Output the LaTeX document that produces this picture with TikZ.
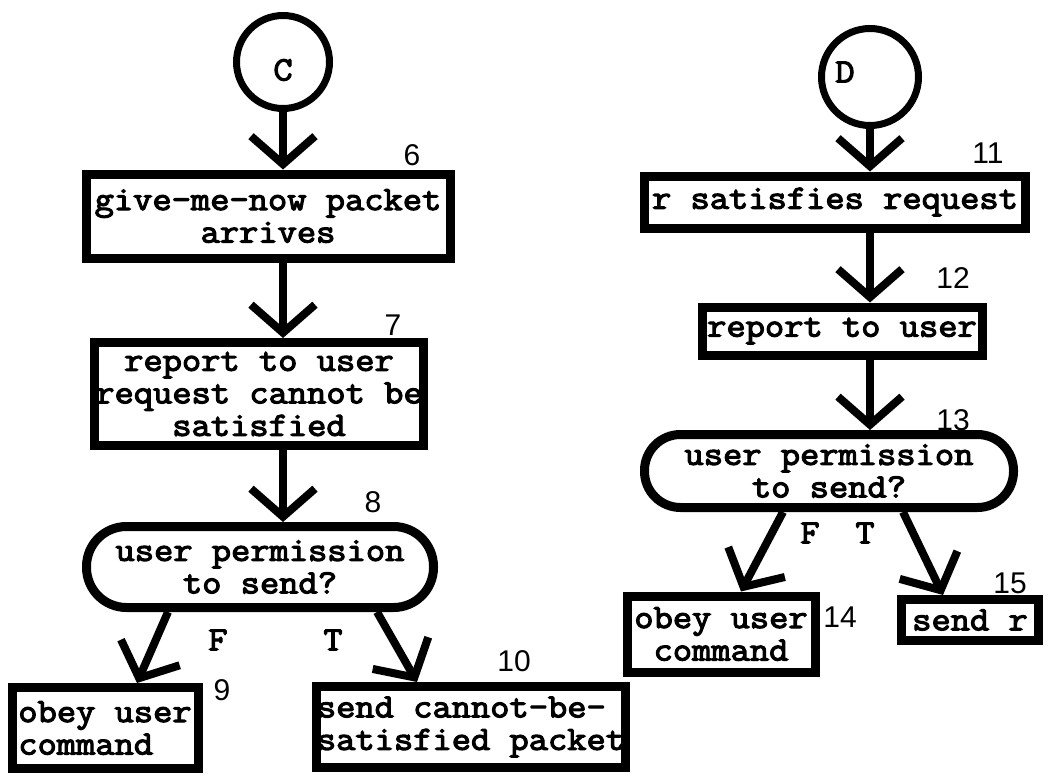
\documentclass[tikz,border=0pt]{standalone}
\usepackage{fontspec}
\usetikzlibrary{arrows.meta}
% heavy, slightly widened typewriter face for the flowchart text
\newfontfamily\tw{Latin Modern Mono}[FakeBold=3.4, FakeStretch=1.1]
\newfontfamily\numf{Liberation Sans}
\begin{document}
\begin{tikzpicture}[x=1pt,y=-1pt,
  txt/.style={font=\tw\fontsize{34}{32.5}\selectfont, inner sep=0pt},
  box/.style={txt, draw, rectangle, line width=9pt},
  decision/.style={txt, draw, rectangle, rounded corners=40pt, line width=9pt, align=center},
  conn/.style={circle, draw, line width=7pt, minimum size=93pt, inner sep=0pt},
  num/.style={font=\numf\fontsize{30}{30}\selectfont, inner sep=0pt},
  arr/.style={line width=8pt, -{Straight Barb[length=28pt,width=64pt,line width=8pt]}}
]
\fill[white] (0,0) rectangle (1050,779);
\useasboundingbox (0,0) rectangle (1050,779);

% left flow: connector C
\node[conn] (C) at (283,62) {};
\node[txt] (Ctxt) at (283,70) {C};
\node[box, minimum width=364pt, minimum height=84pt, align=center] (b6) at (268,216) {give-me-now packet\\arrives};
\node[box, minimum width=329pt, minimum height=103pt, align=center] (b7) at (259,394) {report to user\\request cannot be\\satisfied};
\node[decision, minimum width=347pt, minimum height=81pt] (d8) at (260,567) {user permission\\to send?};
\node[box, minimum width=186pt, minimum height=81pt, align=left] (b9) at (105,728) {obey user\\command\phantom{xx}};
\node[box, minimum width=308pt, minimum height=81pt, align=left] (b10) at (471,727) {send cannot-be-\\satisfied packet};

\draw[arr] (C.south) -- (C.south |- b6.north);
\draw[arr] (C |- b6.south) -- (C |- b7.north);
\draw[arr] (C |- b7.south) -- (C |- d8.north);
\draw[arr] ([xshift=-92pt]d8.south) -- ([xshift=32pt]b9.north);
\draw[arr] ([xshift=117pt]d8.south) -- ([xshift=-54pt]b10.north);

\node[num] (n6) at (412,155) {6};
\node[num] (n7) at (393,325) {7};
\node[num] (n8) at (373,502) {8};
\node[num] (n9) at (222,690) {9};
\node[num] (n10) at (514,661) {10};
\node[txt] (F8) at (218,640) {F};
\node[txt] (T8) at (333,640) {T};

% right flow: connector D
\node[conn, minimum size=97pt] (D) at (870,77) {};
\node[txt] (Dtxt) at (845,72) {D};
\node[box, minimum width=381pt, minimum height=52pt] (b11) at (835,202) {r satisfies request};
\node[box, minimum width=280pt, minimum height=48pt] (b12) at (842,331) {report to user};
\node[decision, rounded corners=36pt, minimum width=369pt, minimum height=73pt] (d13) at (829,471) {user permission\\to send?};
\node[box, minimum width=188pt, minimum height=76pt, align=center] (b14) at (721,634) {obey user\\command};
\node[box, minimum width=137pt, minimum height=41pt] (b15) at (970,620) {send r};

\draw[arr] (D.south) -- (D.south |- b11.north);
\draw[arr] (D |- b11.south) -- (D |- b12.north);
\draw[arr] (D |- b12.south) -- (D |- d13.north);
\draw[arr] ([xshift=-46pt]d13.south) -- ([xshift=20pt]b14.north);
\draw[arr] ([xshift=74pt]d13.south) -- ([xshift=-27pt]b15.north);

\node[num] (n11) at (988,153) {11};
\node[num] (n12) at (953,278) {12};
\node[num] (n13) at (953,420) {13};
\node[num] (n14) at (840,617) {14};
\node[num] (n15) at (1010,583) {15};
\node[txt] (F13) at (810,533) {F};
\node[txt] (T13) at (865,533) {T};
\end{tikzpicture}
\end{document}
